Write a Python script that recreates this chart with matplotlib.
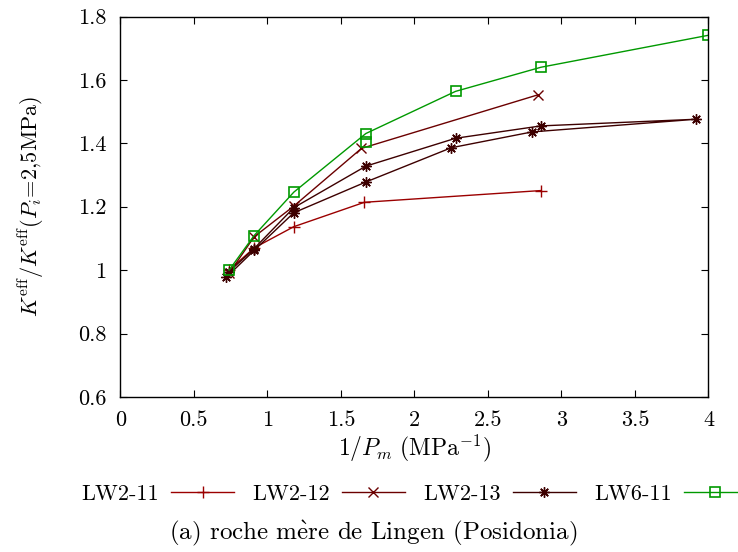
import numpy as np
import matplotlib
matplotlib.use("Agg")
import matplotlib.pyplot as plt

plt.rcParams['font.family'] = ['cmr10', 'DejaVu Serif']
plt.rcParams['mathtext.fontset'] = 'cm'
plt.rcParams['axes.formatter.use_mathtext'] = True

# donnees
x_lw211 = [0.74, 0.91, 1.18, 1.66, 2.86]
y_lw211 = [1.00, 1.07, 1.137, 1.214, 1.251]

x_lw212 = [0.74, 0.91, 1.18, 1.64, 2.84]
y_lw212 = [0.99, 1.105, 1.202, 1.384, 1.553]

x_lw213 = [0.72, 0.91, 1.18, 1.67, 2.25, 2.80, 3.915, 2.86, 2.28, 1.67, 1.18, 0.91, 0.74]
y_lw213 = [0.977, 1.062, 1.181, 1.278, 1.386, 1.436, 1.476, 1.455, 1.416, 1.328, 1.197, 1.068, 0.995]

x_lw611 = [0.74, 0.91, 1.18, 1.67, 2.28, 2.86, 4.0, np.nan, 1.67]
y_lw611 = [1.00, 1.109, 1.246, 1.431, 1.564, 1.640, 1.741, np.nan, 1.404]

fig = plt.figure(figsize=(7.38, 5.52), dpi=100)
ax = fig.add_axes([0.163, 0.281, 0.797, 0.689])

ax.plot(x_lw211, y_lw211, color='#9b0000', lw=1.0, marker='+', ms=8, mew=1.0, label='LW2-11')
ax.plot(x_lw212, y_lw212, color='#6b0000', lw=1.0, marker='x', ms=6.5, mew=1.0, label='LW2-12')
ax.plot(x_lw213, y_lw213, color='#3d0000', lw=1.0, marker=(8, 2, 0), ms=7.5, mew=1.0, label='LW2-13')
ax.plot(x_lw611, y_lw611, color='#009900', lw=1.0, marker='s', ms=6.5, mew=1.2,
        mfc='none', label='LW6-11')

ax.set_xlim(0, 4)
ax.set_ylim(0.6, 1.8)
ax.set_xticks(np.arange(0, 4.01, 0.5))
ax.set_yticks(np.arange(0.6, 1.81, 0.2))
ax.set_xticklabels(['0', '0.5', '1', '1.5', '2', '2.5', '3', '3.5', '4'])
ax.set_yticklabels(['0.6', '0.8', '1', '1.2', '1.4', '1.6', '1.8'])
ax.tick_params(direction='in', top=True, right=True, length=5, width=0.8,
               labelsize=16, pad=10)
for s in ax.spines.values():
    s.set_linewidth(1.0)

ax.set_xlabel(r'$1/P_m\ (\mathrm{MPa}^{-1})$', fontsize=17, labelpad=2)
ax.set_ylabel(r'$K^{\mathrm{eff}}/K^{\mathrm{eff}}(P_i\!=\!2{,}5\mathrm{MPa})$',
              fontsize=16, labelpad=22)

fig.legend(loc='center', bbox_to_anchor=(0.561, 0.105), ncol=4, frameon=False,
           markerfirst=False, fontsize=16, handlelength=2.8, handletextpad=0.55,
           columnspacing=0.85)

fig.text(0.506, 0.034, r'(a) roche m$\grave{\mathrm{e}}$re de Lingen (Posidonia)',
         ha='center', va='center', fontsize=18)

fig.savefig('out.png', dpi=100)
